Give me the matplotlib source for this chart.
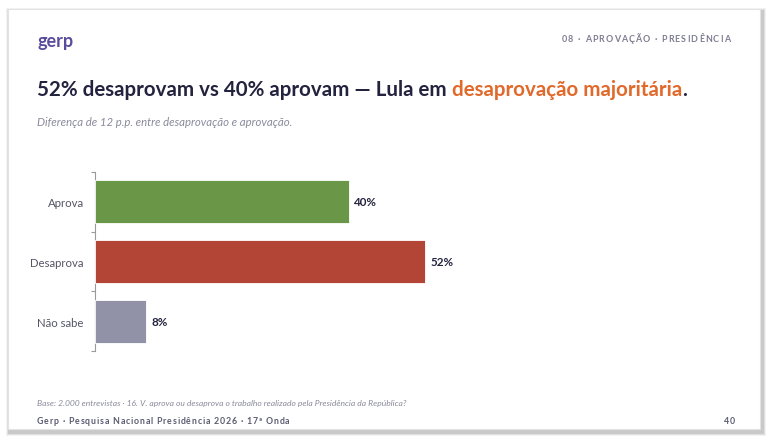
import matplotlib.pyplot as plt
from matplotlib.patches import Rectangle
from matplotlib.font_manager import FontProperties

## chart data
categories = ['Aprova', 'Desaprova', 'Não sabe']
values = [40, 52, 8]
bar_colors = ['#6a9647', '#b34536', '#9192a7']

title_main = '52% desaprovam vs 40% aprovam — Lula em '
title_hl = 'desaprovação majoritária'
subtitle = 'Diferença de 12 p.p. entre desaprovação e aprovação.'
header = '08 · APROVAÇÃO · PRESIDÊNCIA'
note = 'Base: 2.000 entrevistas · 16. V. aprova ou desaprova o trabalho realizado pela Presidência da República?'
footer = 'Gerp · Pesquisa Nacional Presidência 2026 · 17ª Onda'
page = '40'

navy = '#23233f'
orange = '#e0692b'
gray = '#8a8a9c'

plt.rcParams['font.family'] = ['Lato', 'DejaVu Sans']

W, H = 768, 439
fig = plt.figure(figsize=(W / 100, H / 100), dpi=100)
fig.patch.set_facecolor('white')
renderer = fig.canvas.get_renderer()


def px(x, y):
    return x / W, 1 - y / H


def tracked(x, y, s, size, color, track, align='left'):
    # draw text char by char with extra letter spacing (pixels)
    fp = FontProperties(family=['Lato', 'DejaVu Sans'], weight='bold', size=size)
    widths = []
    for ch in s:
        if ch == ' ':
            w = renderer.get_text_width_height_descent('a a', fp, ismath=False)[0] - \
                renderer.get_text_width_height_descent('aa', fp, ismath=False)[0]
        else:
            w = renderer.get_text_width_height_descent(ch, fp, ismath=False)[0]
        widths.append(w)
    total = sum(widths) + track * (len(s) - 1)
    cx = x - total if align == 'right' else x
    for ch, w in zip(s, widths):
        if ch != ' ':
            fig.text(cx / W, 1 - y / H, ch, fontproperties=fp, color=color, va='center', ha='left')
        cx += w + track


## card with soft shadow
for i, a in enumerate([0.05, 0.07, 0.10]):
    d = 4 - i
    x0, y1 = px(8 - d + 2, 10 - d + 3)
    x1, y0 = px(760 + d + 2, 430 + d + 3)
    fig.patches.append(Rectangle((x0, y0), x1 - x0, y1 - y0, transform=fig.transFigure,
                                 facecolor='black', alpha=a, edgecolor='none', zorder=0))
x0, y1 = px(8, 10)
x1, y0 = px(760, 430)
fig.patches.append(Rectangle((x0, y0), x1 - x0, y1 - y0, transform=fig.transFigure,
                             facecolor='white', edgecolor='#e2e4e4', linewidth=0.8, zorder=1))

## header
fig.text(*px(37, 42), 'gerp', fontsize=13, fontweight='bold', color='#5a4b9c', va='center', ha='left')
tracked(730, 40, header, 6.4, '#7d7d90', 1.15, align='right')

## title in two colours
tsize = 14.8
t1 = fig.text(*px(37, 90), title_main, fontsize=tsize, fontweight='bold', color=navy, va='center', ha='left')
fig.canvas.draw()
bb = t1.get_window_extent()
t2 = fig.text(bb.x1 / W, 1 - 90 / H, title_hl, fontsize=tsize, fontweight='bold', color=orange,
              va='center', ha='left')
fig.canvas.draw()
bb2 = t2.get_window_extent()
fig.text(bb2.x1 / W, 1 - 90 / H, '.', fontsize=tsize, fontweight='bold', color=navy, va='center', ha='left')

fig.text(*px(37, 123), subtitle, fontsize=8.2, style='italic', color=gray, va='center', ha='left')

## bar chart
ax_l, ax_b = px(95, 352)
ax_r, ax_t = px(725, 173)
ax = fig.add_axes([ax_l, ax_b, ax_r - ax_l, ax_t - ax_b])
ax.set_zorder(3)
ax.set_facecolor('none')
ypos = list(range(len(categories)))
ax.barh(ypos, values, height=0.72, color=bar_colors, edgecolor='white', linewidth=0.6, zorder=3)
for y, v in zip(ypos, values):
    ax.annotate(f'{v}%', (v, y), xytext=(4, 0), textcoords='offset points',
                va='center', ha='left', fontsize=8.4, fontweight='bold', color=navy)
ax.set_xlim(0, 99.3)
ax.set_ylim(2.5, -0.5)
ax.set_yticks(ypos)
ax.set_yticklabels(categories, fontsize=8.2, color='#555566')
ax.tick_params(axis='y', length=0, pad=8)
ax.set_yticks([-0.5, 0.5, 1.5, 2.5], minor=True)
ax.tick_params(axis='y', which='minor', length=3, color='#9a9a9a', width=0.8)
ax.set_xticks([])
for s in ['top', 'right', 'bottom']:
    ax.spines[s].set_visible(False)
ax.spines['left'].set_color('#9a9a9a')
ax.spines['left'].set_linewidth(0.8)

## footer
fig.text(*px(37, 404), note, fontsize=6.1, style='italic', color=gray, va='center', ha='left')
tracked(37, 422, footer, 6.3, '#5c5c72', 0.85)
tracked(735, 422, page, 6.3, '#5c5c72', 0.85, align='right')

fig.savefig('out.png', dpi=100, facecolor=fig.get_facecolor())
